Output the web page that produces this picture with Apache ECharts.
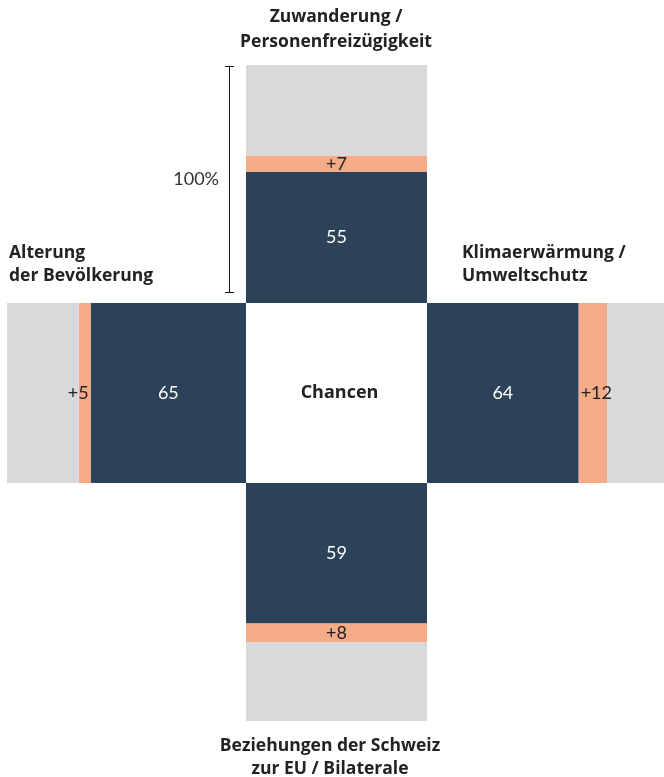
<!DOCTYPE html>
<html>
<head>
<meta charset="utf-8">
<script src="https://cdn.jsdelivr.net/npm/echarts@6/dist/echarts.min.js"></script>
<style>
  html, body { margin: 0; padding: 0; background: #ffffff; }
  #chart { width: 664px; height: 777px; }
</style>
</head>
<body>
<div id="chart"></div>
<script>
// Themes seen as chances, one per arm of the cross: top, right, bottom, left
const themes = [
  'Zuwanderung /\nPersonenfreizügigkeit',
  'Klimaerwärmung /\nUmweltschutz',
  'Beziehungen der Schweiz\nzur EU / Bilaterale',
  'Alterung\nder Bevölkerung'
];
// Share (%) seeing a chance
const baseShares = [55, 64, 59, 65];
// Increase in percentage points
const increases = [7, 12, 8, 5];
// Every arm spans the full 100 %
const fullScale = 100;
const centerLabel = 'Chancen';
const scaleLabel = '100%';

const DARK = '#2c4259';
const ORANGE = '#f4ab87';
const GREY = '#d8d9db';
const TEXT = '#222222';
const FONT = 'Lato, "Noto Sans", sans-serif';
const HEAD_FONT = '"Open Sans", "Noto Sans", sans-serif';

// Arm geometry: grid boxes around the central square
const cx0 = 246, cx1 = 427, cy0 = 303, cy1 = 483, armLen = 238;
const arms = [
  { dir: 'up',    grid: { left: cx0, top: cy0 - armLen, width: cx1 - cx0, height: armLen }, incPos: 'inside' },
  { dir: 'right', grid: { left: cx1, top: cy0, width: armLen, height: cy1 - cy0 }, incPos: 'insideLeft' },
  { dir: 'down',  grid: { left: cx0, top: cy1, width: cx1 - cx0, height: armLen }, incPos: 'inside' },
  { dir: 'left',  grid: { left: cx0 - armLen - 1, top: cy0, width: armLen + 1, height: cy1 - cy0 }, incPos: 'insideRight' }
];

const grids = [], xAxes = [], yAxes = [], series = [];
arms.forEach((arm, i) => {
  grids.push(Object.assign({ containLabel: false }, arm.grid));
  const vertical = arm.dir === 'up' || arm.dir === 'down';
  const valueAxis = {
    type: 'value', gridIndex: i, min: 0, max: fullScale,
    inverse: arm.dir === 'down' || arm.dir === 'left',
    show: false
  };
  const catAxis = { type: 'category', gridIndex: i, data: [themes[i]], show: false };
  if (vertical) { xAxes.push(catAxis); yAxes.push(valueAxis); }
  else { xAxes.push(valueAxis); yAxes.push(catAxis); }

  const common = {
    type: 'bar', xAxisIndex: i, yAxisIndex: i, stack: 'arm' + i,
    barWidth: '100%', barCategoryGap: 0, silent: true, animation: false
  };
  series.push(Object.assign({}, common, {
    name: 'base' + i,
    data: [baseShares[i]],
    itemStyle: { color: DARK },
    label: { show: true, position: 'inside', color: '#ffffff', fontFamily: FONT, fontSize: 18 }
  }));
  series.push(Object.assign({}, common, {
    name: 'inc' + i,
    data: [increases[i]],
    itemStyle: { color: ORANGE },
    label: {
      show: true, position: arm.incPos, distance: 2, color: TEXT, fontFamily: FONT, fontSize: 18,
      formatter: p => '+' + p.value
    }
  }));
  series.push(Object.assign({}, common, {
    name: 'rest' + i,
    data: [fullScale - baseShares[i] - increases[i]],
    itemStyle: { color: GREY },
    label: { show: false }
  }));
});

const titleStyle = { fill: TEXT, font: 'bold 17.5px ' + HEAD_FONT, lineHeight: 23 };
const graphic = [
  { type: 'text', x: 336, y: 5, style: Object.assign({}, titleStyle, { text: themes[0], textAlign: 'center', lineHeight: 25 }) },
  { type: 'text', x: 462, y: 242, style: Object.assign({}, titleStyle, { text: themes[1] }) },
  { type: 'text', x: 330, y: 735, style: Object.assign({}, titleStyle, { text: themes[2], textAlign: 'center' }) },
  { type: 'text', x: 9, y: 242, style: Object.assign({}, titleStyle, { text: themes[3] }) },
  { type: 'text', x: (cx0 + cx1) / 2 + 3, y: (cy0 + cy1) / 2, style: { text: centerLabel, textAlign: 'center', textVerticalAlign: 'middle', fill: TEXT, font: 'bold 18px ' + HEAD_FONT } },
  // 100 % scale bracket beside the top arm
  { type: 'line', shape: { x1: 229.5, y1: 66, x2: 229.5, y2: 293 }, style: { stroke: '#111', lineWidth: 1 } },
  { type: 'line', shape: { x1: 225, y1: 66.5, x2: 234, y2: 66.5 }, style: { stroke: '#111', lineWidth: 1 } },
  { type: 'line', shape: { x1: 225, y1: 292.5, x2: 234, y2: 292.5 }, style: { stroke: '#111', lineWidth: 1 } },
  { type: 'text', x: 219, y: 179, style: { text: scaleLabel, textAlign: 'right', textVerticalAlign: 'middle', fill: '#333', font: '18px ' + FONT } }
];

const chart = echarts.init(document.getElementById('chart'), null, { renderer: 'canvas' });
chart.setOption({
  animation: false,
  backgroundColor: '#ffffff',
  grid: grids,
  xAxis: xAxes,
  yAxis: yAxes,
  series: series,
  graphic: graphic
});
</script>
</body>
</html>
